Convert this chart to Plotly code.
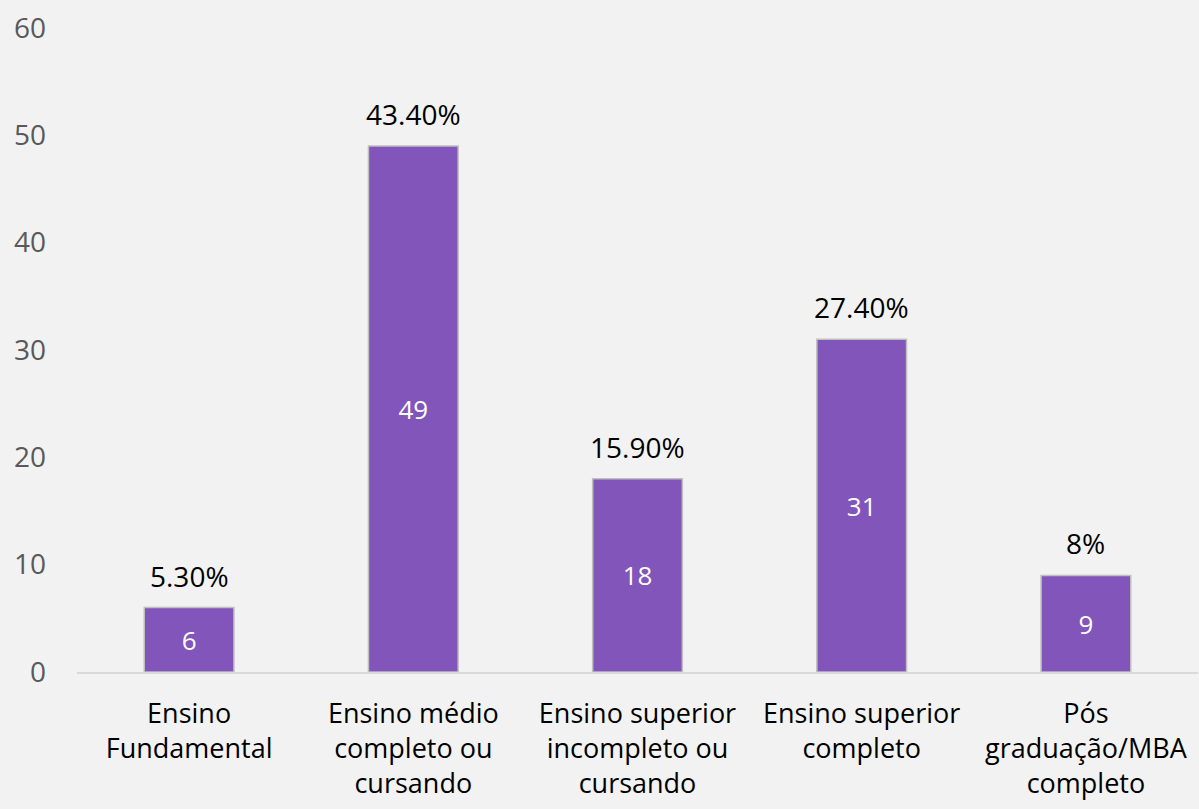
import plotly.graph_objects as go

categories = ["Ensino<br>Fundamental", "Ensino médio<br>completo ou<br>cursando",
              "Ensino superior<br>incompleto ou<br>cursando", "Ensino superior<br>completo",
              "Pós<br>graduação/MBA<br>completo"]
counts = [6, 49, 18, 31, 9]
percent_labels = ["5.30%", "43.40%", "15.90%", "27.40%", "8%"]
y_ticks = [0, 10, 20, 30, 40, 50, 60]

FONT = "Open Sans, Liberation Sans, DejaVu Sans, sans-serif"

fig = go.Figure()
fig.add_trace(go.Bar(
    x=categories, y=counts,
    text=[str(c) for c in counts],
    textposition="inside", insidetextanchor="middle",
    textfont=dict(color="white", size=26, family=FONT),
    marker=dict(color="#8155BA", line=dict(color="#bfbfbf", width=1.5)),
    width=0.4,
    cliponaxis=False,
    hoverinfo="skip",
))

for cat, c, p in zip(categories, counts, percent_labels):
    fig.add_annotation(x=cat, y=c, text=p, showarrow=False, yanchor="bottom",
                       yshift=11, font=dict(color="#000000", size=28, family=FONT))

fig.update_layout(
    width=1199, height=809,
    paper_bgcolor="#f2f2f2", plot_bgcolor="#f2f2f2",
    margin=dict(l=77, r=1, t=28, b=137),
    showlegend=False,
    bargap=0.6,
    font=dict(family=FONT),
)
fig.update_xaxes(showline=True, linecolor="#d9d9d9", linewidth=1.5, ticks="",
                 tickfont=dict(size=27, color="#000000", family=FONT),
                 ticklabelstandoff=17,
                 showgrid=False)
fig.update_yaxes(range=[0, 60], tickvals=y_ticks, showgrid=False, zeroline=False,
                 showline=False, ticks="", ticklabelstandoff=30,
                 tickfont=dict(size=28, color="#595959", family=FONT))

fig.write_html("out.html", config={"displayModeBar": False},
               post_script="document.body.style.margin='0';document.body.style.background='#f2f2f2';")
